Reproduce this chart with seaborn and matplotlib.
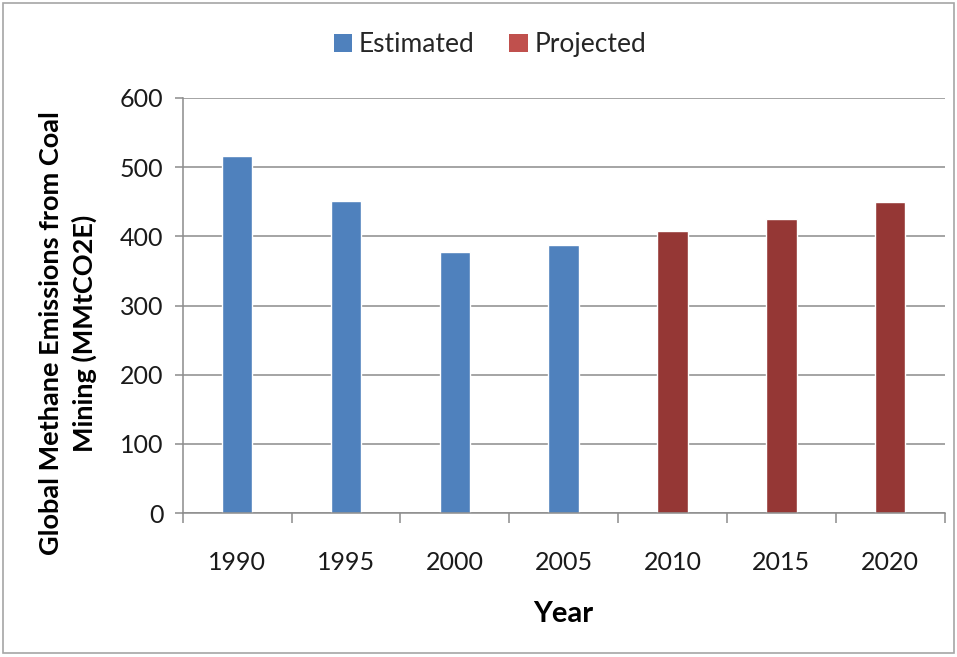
import matplotlib
matplotlib.use("Agg")
import matplotlib.pyplot as plt
import seaborn as sns
import pandas as pd
from matplotlib.patches import Patch, Rectangle
from matplotlib.ticker import FixedLocator

years = ["1990", "1995", "2000", "2005", "2010", "2015", "2020"]
values = [516, 451, 377, 388, 408, 425, 449]
kinds = ["Estimated", "Estimated", "Estimated", "Estimated", "Projected", "Projected", "Projected"]
yticks = [0, 100, 200, 300, 400, 500, 600]

df = pd.DataFrame({"Year": years, "Value": values, "Kind": kinds})

sns.set_theme(style="white")
plt.rcParams["font.family"] = ["Lato", "DejaVu Sans"]

bar_colors = {"Estimated": "#4F81BD", "Projected": "#953735"}
legend_colors = {"Estimated": "#4F81BD", "Projected": "#C0504D"}

fig = plt.figure(figsize=(9.57, 6.57), dpi=100)
ax = fig.add_axes([0.191, 0.219, 0.796, 0.632])

sns.barplot(data=df, x="Year", y="Value", hue="Kind", palette=bar_colors,
            dodge=False, width=0.28, saturation=1, ax=ax, legend=False)

ax.set_ylim(0, 600)
ax.set_xlim(-0.5, len(years) - 0.5)
ax.set_yticks(yticks)
ax.yaxis.grid(True, color="#8C8C8C", linewidth=1.1)
ax.set_axisbelow(True)
for s in ["top", "right"]:
    ax.spines[s].set_visible(False)
for s in ["left", "bottom"]:
    ax.spines[s].set_color("#8C8C8C")
    ax.spines[s].set_linewidth(1.1)

ax.tick_params(axis="y", which="major", length=6, width=1.1, color="#8C8C8C",
               direction="out", labelsize=18, pad=8, left=True)
ax.tick_params(axis="x", which="major", length=0, labelsize=18, pad=27)
ax.xaxis.set_minor_locator(FixedLocator([i - 0.5 for i in range(len(years) + 1)]))
ax.tick_params(axis="x", which="minor", length=7, width=1.1, color="#8C8C8C",
               direction="out", bottom=True)
for lbl in ax.get_xticklabels() + ax.get_yticklabels():
    lbl.set_color("#1A1A1A")

ax.set_xlabel("Year", fontsize=21, fontweight="bold", labelpad=20, color="black")
ax.set_ylabel("Global Methane Emissions from Coal\nMining (MMtCO2E)", fontsize=19.5,
              fontweight="bold", color="black", linespacing=1.45)
ax.yaxis.set_label_coords(-0.112, 0.434)

handles = [Patch(facecolor=legend_colors[k], edgecolor="none", label=k)
           for k in ["Estimated", "Projected"]]
fig.legend(handles=handles, loc="center", bbox_to_anchor=(0.512, 0.932), ncol=2,
           frameon=False, fontsize=19, handlelength=0.7, handleheight=0.7,
           handletextpad=0.25, columnspacing=1.3)

fig.patches.append(Rectangle((0.003, 0.006), 0.994, 0.99, transform=fig.transFigure,
                             fill=False, edgecolor="#A6A6A6", linewidth=1.2))

fig.savefig("out.png", dpi=100)
